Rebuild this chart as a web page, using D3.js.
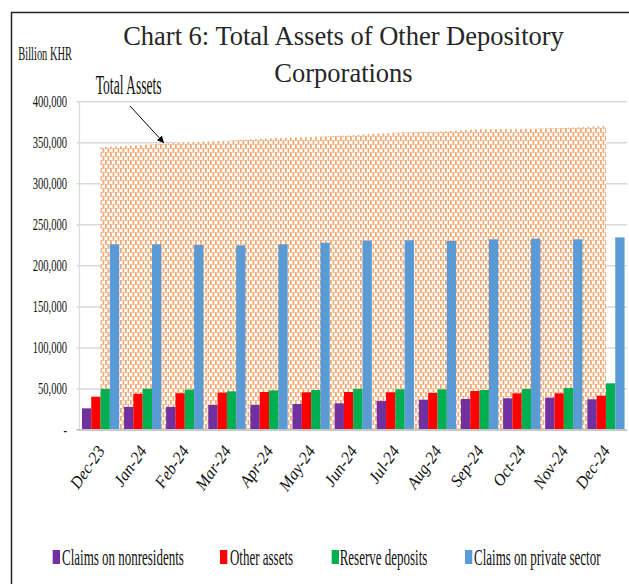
<!DOCTYPE html>
<html>
<head>
<meta charset="utf-8">
<script src="https://cdn.jsdelivr.net/npm/d3@7"></script>
<style>
  html, body { margin: 0; padding: 0; background: #fff; }
  svg { display: block; }
  text { font-family: "Liberation Serif", "Times New Roman", serif; }
</style>
</head>
<body>
<svg id="chart" width="629" height="584"></svg>
<script>
// ---------- data ----------
const categories = ["Dec-23","Jan-24","Feb-24","Mar-24","Apr-24","May-24","Jun-24","Jul-24","Aug-24","Sep-24","Oct-24","Nov-24","Dec-24"];
const claimsNonresidents = [26400, 28200, 28200, 30500, 30500, 31700, 32500, 35300, 36900, 37800, 38600, 39400, 37400];
const otherAssets        = [40600, 44200, 44800, 45500, 46300, 45900, 46300, 45900, 45100, 47500, 44700, 44700, 41800];
const reserveDeposits    = [50000, 50200, 49300, 47100, 48300, 48700, 50000, 49600, 49600, 48700, 50000, 51200, 56900];
const claimsPrivate      = [226200, 226200, 225400, 225000, 226200, 228200, 230700, 231100, 230300, 232300, 233100, 232300, 234700];
const totalAssets        = [344500, 347200, 350500, 352500, 355300, 356900, 359000, 362600, 363400, 366300, 366700, 367900, 370300];
const yTicks = [0, 50000, 100000, 150000, 200000, 250000, 300000, 350000, 400000];
const seriesNames = ["Claims on nonresidents", "Other assets", "Reserve deposits", "Claims on private sector"];
const seriesColors = ["#7030A0", "#FF0000", "#00B050", "#5B9BD5"];
const seriesValues = [claimsNonresidents, otherAssets, reserveDeposits, claimsPrivate];

const svg = d3.select("#chart");
const plotL = 79.5, plotR = 627, plotT = 101.7, plotB = 430;

// condensed text: a group scaled horizontally
function condText(parent, x, y, str, size, sx, anchor) {
  const g = parent.append("g").attr("transform", `translate(${x},${y}) scale(${sx},1)`);
  return g.append("text").attr("x", 0).attr("y", 0).attr("font-size", size)
    .attr("text-anchor", anchor || "start").attr("fill", "#111").text(str);
}

const x0 = d3.scaleBand().domain(categories).range([plotL, plotR]).paddingInner(0.116).paddingOuter(0.058);
const x1 = d3.scaleBand().domain(seriesNames).range([0, x0.bandwidth()]);
const y = d3.scaleLinear().domain([0, 400000]).range([plotB, plotT]);

// pattern for total assets area (dashed vertical)
const defs = svg.append("defs");
const pat = defs.append("pattern").attr("id", "dash").attr("patternUnits", "userSpaceOnUse")
  .attr("width", 5).attr("height", 8);
pat.append("rect").attr("width", 5).attr("height", 8).attr("fill", "#fff");
const dashC = "#f4a872";
pat.append("rect").attr("x", 0).attr("y", 0).attr("width", 1.8).attr("height", 5).attr("fill", dashC);
pat.append("rect").attr("x", 2.5).attr("y", 4).attr("width", 1.8).attr("height", 5).attr("fill", dashC);
pat.append("rect").attr("x", 2.5).attr("y", -4).attr("width", 1.8).attr("height", 5).attr("fill", dashC);

defs.append("marker").attr("id", "arrow").attr("viewBox", "0 0 10 10").attr("refX", 10).attr("refY", 5)
  .attr("markerWidth", 7).attr("markerHeight", 7).attr("markerUnits", "userSpaceOnUse").attr("orient", "auto")
  .append("path").attr("d", "M0,0 L10,5 L0,10 Z").attr("fill", "#000");

// frame
svg.append("rect").attr("x", 11.5).attr("y", 12.5).attr("width", 800).attr("height", 800)
  .attr("fill", "none").attr("stroke", "#262626").attr("stroke-width", 1.5);

// gridlines
svg.append("g").selectAll("line").data(yTicks.filter(d => d > 0)).join("line")
  .attr("x1", plotL - 3).attr("x2", plotR)
  .attr("y1", d => y(d)).attr("y2", d => y(d))
  .attr("stroke", "#d9d9d9").attr("stroke-width", 1.5);

// y axis line
svg.append("line").attr("x1", plotL).attr("x2", plotL).attr("y1", plotT).attr("y2", plotB)
  .attr("stroke", "#d9d9d9").attr("stroke-width", 1.2);

// total assets area
const cx = c => x0(c) + x0.bandwidth() / 2;
const area = d3.area().x((d, i) => cx(categories[i])).y0(y(0)).y1(d => y(d));
svg.append("path").datum(totalAssets).attr("d", area).attr("fill", "url(#dash)");

// bars
const gBars = svg.append("g");
categories.forEach((c, i) => {
  seriesNames.forEach((s, j) => {
    const v = seriesValues[j][i];
    gBars.append("rect")
      .attr("x", x0(c) + x1(s)).attr("width", x1.bandwidth())
      .attr("y", y(v)).attr("height", y(0) - y(v))
      .attr("fill", seriesColors[j]);
  });
});

// baseline
svg.append("line").attr("x1", plotL - 3).attr("x2", plotR).attr("y1", y(0)).attr("y2", y(0))
  .attr("stroke", "#c8c8c8").attr("stroke-width", 2);

// y tick labels
const gy = svg.append("g");
yTicks.forEach(d => condText(gy, 67, y(d) + 5.5, d === 0 ? "-" : d3.format(",")(d), 15.7, 0.674, "end"));

// x labels
const gx = svg.append("g");
categories.forEach(c => {
  const g = gx.append("g").attr("transform", `translate(${cx(c) + 5},451) rotate(-55) scale(0.95,1)`);
  g.append("text").attr("text-anchor", "end").attr("font-size", 17).attr("font-style", "italic")
    .attr("fill", "#111").text(c);
});

// titles
svg.append("text").attr("x", 343.5).attr("y", 45).attr("text-anchor", "middle")
  .attr("font-size", 26.5).attr("fill", "#262626").text("Chart 6: Total Assets of Other Depository");
svg.append("text").attr("x", 343.5).attr("y", 81.5).attr("text-anchor", "middle")
  .attr("font-size", 26.5).attr("fill", "#262626").text("Corporations");

// unit label
condText(svg, 18.3, 60, "Billion KHR", 19, 0.55);

// annotation
condText(svg, 95.7, 94.3, "Total Assets", 28, 0.486);
svg.append("line").attr("x1", 130).attr("y1", 106).attr("x2", 164).attr("y2", 143)
  .attr("stroke", "#000").attr("stroke-width", 1).attr("marker-end", "url(#arrow)");

// legend
const legendSq = [52.7, 220, 331.7, 465];
const legendTx = [62, 230, 339.7, 474];
const lg = svg.append("g");
seriesNames.forEach((s, j) => {
  lg.append("rect").attr("x", legendSq[j]).attr("y", 550).attr("width", 7.3).attr("height", 14).attr("fill", seriesColors[j]);
  condText(lg, legendTx[j], 565.3, s, 23, 0.565);
});
</script>
</body>
</html>
